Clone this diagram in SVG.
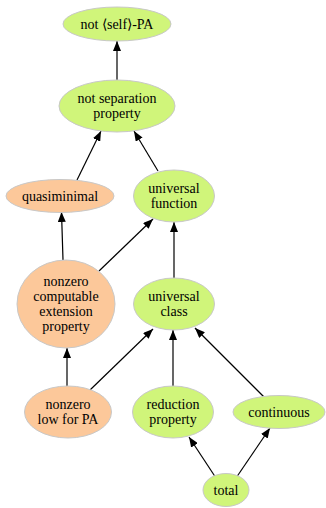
<svg xmlns="http://www.w3.org/2000/svg" width="326" height="508" viewBox="0 0 326 508">
<style>
.g{fill:#d0f57a;stroke:#c8c8c8;stroke-width:1}
.o{fill:#fcc89a;stroke:#c8c8c8;stroke-width:1}
text{font-family:"Liberation Serif","Times New Roman",serif;font-size:14px;fill:#000;text-anchor:middle}
.e line{stroke:#000;stroke-width:1.2;marker-end:url(#a)}
</style>
<defs>
<marker id="a" markerWidth="11" markerHeight="8" refX="10" refY="4" orient="auto" markerUnits="userSpaceOnUse">
<path d="M0,0 L10,4 L0,8 Z" fill="#000"/>
</marker>
</defs>
<rect width="326" height="508" fill="#fff"/>
<g class="e" id="edges">
<line x1="117" y1="80" x2="117" y2="41"/>
<line x1="77" y1="180" x2="101" y2="131"/>
<line x1="158" y1="171" x2="134" y2="131"/>
<line x1="63" y1="260" x2="61.5" y2="212"/>
<line x1="99" y1="271" x2="153" y2="219"/>
<line x1="174" y1="278" x2="174" y2="222"/>
<line x1="67" y1="387" x2="67" y2="348"/>
<line x1="90" y1="390" x2="153" y2="329"/>
<line x1="173" y1="387" x2="173" y2="330"/>
<line x1="264" y1="397" x2="195" y2="328"/>
<line x1="216" y1="478" x2="189" y2="437"/>
<line x1="236" y1="478" x2="270" y2="428"/>
</g>
<g id="notselfPA"><ellipse class="g" cx="117" cy="24" rx="54" ry="17"/><text x="117" y="29">not ⟨self⟩-PA</text></g>
<g id="notsep"><ellipse class="g" cx="117" cy="106" rx="58" ry="26"/><text x="117" y="103">not separation</text><text x="117" y="118">property</text></g>
<g id="quasiminimal"><ellipse class="o" cx="60" cy="196" rx="54" ry="16.5"/><text x="60" y="201">quasiminimal</text></g>
<g id="univfunction"><ellipse class="g" cx="174" cy="196" rx="40.5" ry="26"/><text x="174" y="193">universal</text><text x="174" y="208">function</text></g>
<g id="nonzeroext"><ellipse class="o" cx="66" cy="304" rx="49" ry="44"/><text x="66" y="286">nonzero</text><text x="66" y="301">computable</text><text x="66" y="316">extension</text><text x="66" y="331">property</text></g>
<g id="univclass"><ellipse class="g" cx="174" cy="304" rx="40.5" ry="26"/><text x="174" y="301">universal</text><text x="174" y="316">class</text></g>
<g id="nonzerolow"><ellipse class="o" cx="68" cy="412" rx="43.5" ry="26"/><text x="68" y="409">nonzero</text><text x="68" y="424">low for PA</text></g>
<g id="reduction"><ellipse class="g" cx="173" cy="412" rx="40.5" ry="26"/><text x="173" y="409">reduction</text><text x="173" y="424">property</text></g>
<g id="continuous"><ellipse class="g" cx="279" cy="412" rx="46" ry="16.5"/><text x="279" y="417">continuous</text></g>
<g id="total"><ellipse class="g" cx="226" cy="490" rx="23" ry="16.5"/><text x="226" y="495">total</text></g>
</svg>
